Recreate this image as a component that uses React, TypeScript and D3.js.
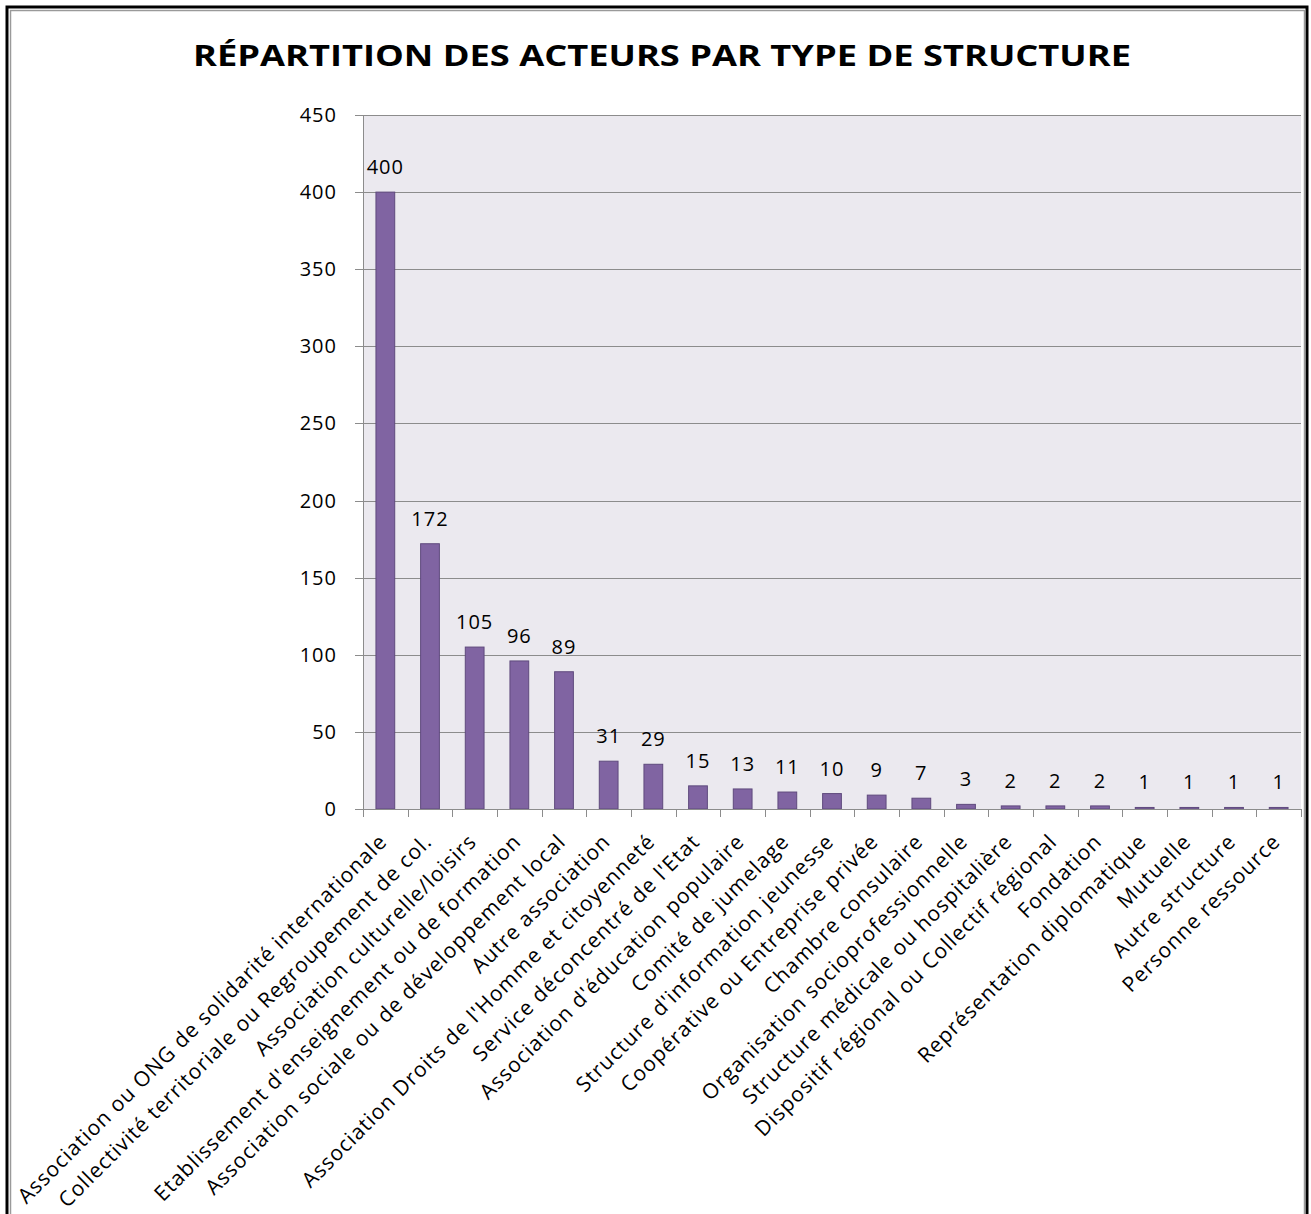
import React, { useEffect, useRef } from 'react';
import * as d3 from 'd3';

const categories = [
  'Association ou ONG de solidarité internationale',
  'Collectivité territoriale ou Regroupement de col.',
  'Association culturelle/loisirs',
  "Etablissement d'enseignement ou de formation",
  'Association sociale ou de développement local',
  'Autre association',
  "Association Droits de l'Homme et citoyenneté",
  "Service déconcentré de l'Etat",
  "Association d'éducation populaire",
  'Comité de jumelage',
  "Structure d'information jeunesse",
  'Coopérative ou Entreprise privée',
  'Chambre consulaire',
  'Organisation socioprofessionnelle',
  'Structure médicale ou hospitalière',
  'Dispositif régional ou Collectif régional',
  'Fondation',
  'Représentation diplomatique',
  'Mutuelle',
  'Autre structure',
  'Personne ressource',
];

const values = [400, 172, 105, 96, 89, 31, 29, 15, 13, 11, 10, 9, 7, 3, 2, 2, 2, 1, 1, 1, 1];

const yTicks = [0, 50, 100, 150, 200, 250, 300, 350, 400, 450];

const title = 'RÉPARTITION DES ACTEURS PAR TYPE DE STRUCTURE';

const W = 1311;
const H = 1214;
const FONT = '"Open Sans", sans-serif';

const App = () => {
  const svgRef = useRef(null);

  useEffect(() => {
    const svg = d3.select(svgRef.current);
    svg.selectAll('*').remove();

    const left = 363, right = 1301, top = 115, bottom = 809;

    const data = categories.map((c, i) => ({ name: c, value: values[i] }));

    const x = d3.scaleBand()
      .domain(categories)
      .range([left, right])
      .paddingInner(0.58)
      .paddingOuter(0.29);

    const y = d3.scaleLinear()
      .domain([0, 450])
      .range([bottom, top]);

    // cadre
    svg.append('rect')
      .attr('x', 7).attr('y', 7)
      .attr('width', W - 11).attr('height', H + 50)
      .attr('fill', '#fff')
      .attr('stroke', '#000')
      .attr('stroke-width', 3);
    svg.append('rect')
      .attr('x', 10.5).attr('y', 10.5)
      .attr('width', W - 17).attr('height', H + 50)
      .attr('fill', 'none')
      .attr('stroke', '#9a9a9a')
      .attr('stroke-width', 1.5);

    svg.append('text')
      .attr('x', 662)
      .attr('y', 66)
      .attr('text-anchor', 'middle')
      .attr('font-family', FONT)
      .attr('font-weight', 'bold')
      .attr('font-size', 29)
      .attr('textLength', 938)
      .attr('lengthAdjust', 'spacingAndGlyphs')
      .attr('fill', '#000')
      .text(title);

    // zone de tracé
    svg.append('rect')
      .attr('x', left).attr('y', top)
      .attr('width', right - left).attr('height', bottom - top)
      .attr('fill', '#ebe9ef');

    svg.append('g')
      .selectAll('line')
      .data(yTicks)
      .enter().append('line')
      .attr('x1', left - 8).attr('x2', right)
      .attr('y1', d => Math.round(y(d)) + 0.5)
      .attr('y2', d => Math.round(y(d)) + 0.5)
      .attr('stroke', '#8c8c8c')
      .attr('stroke-width', 1);

    svg.append('g')
      .selectAll('text')
      .data(yTicks)
      .enter().append('text')
      .attr('x', 337)
      .attr('y', d => y(d))
      .attr('dy', '0.35em')
      .attr('text-anchor', 'end')
      .attr('font-family', FONT)
      .attr('font-size', 20)
      .attr('letter-spacing', 1)
      .attr('fill', '#000')
      .text(d => d);

    svg.append('line')
      .attr('x1', left + 0.5).attr('x2', left + 0.5)
      .attr('y1', top).attr('y2', bottom)
      .attr('stroke', '#8c8c8c');

    // graduations entre les catégories
    const edges = d3.range(categories.length + 1).map(i => left + i * x.step());
    svg.append('g')
      .selectAll('line')
      .data(edges)
      .enter().append('line')
      .attr('x1', d => Math.round(d) + 0.5).attr('x2', d => Math.round(d) + 0.5)
      .attr('y1', bottom).attr('y2', bottom + 8)
      .attr('stroke', '#8c8c8c');

    // barres
    svg.append('g')
      .selectAll('rect')
      .data(data)
      .enter().append('rect')
      .attr('x', d => x(d.name))
      .attr('y', d => y(d.value))
      .attr('width', x.bandwidth())
      .attr('height', d => bottom - y(d.value))
      .attr('fill', '#8064a2')
      .attr('stroke', '#5f4a7d')
      .attr('stroke-width', 1);

    // étiquettes de valeurs
    svg.append('g')
      .selectAll('text')
      .data(data)
      .enter().append('text')
      .attr('x', d => x(d.name) + x.bandwidth() / 2)
      .attr('y', d => y(d.value) - 18)
      .attr('text-anchor', 'middle')
      .attr('font-family', FONT)
      .attr('font-size', 20)
      .attr('letter-spacing', 1)
      .attr('fill', '#000')
      .text(d => d.value);

    svg.append('line')
      .attr('x1', left).attr('x2', right)
      .attr('y1', bottom + 0.5).attr('y2', bottom + 0.5)
      .attr('stroke', '#8c8c8c');

    // catégories
    svg.append('g')
      .selectAll('text')
      .data(data)
      .enter().append('text')
      .attr('transform', d => `translate(${x(d.name) + x.bandwidth() / 2 + 3},843) rotate(-45)`)
      .attr('text-anchor', 'end')
      .attr('font-family', FONT)
      .attr('font-size', 21)
      .attr('letter-spacing', 1)
      .attr('fill', '#000')
      .text(d => d.name);
  }, []);

  return (
    <svg ref={svgRef} width={W} height={H}
      style={{ position: 'absolute', left: 0, top: 0, background: '#fff' }} />
  );
};

export default App;
